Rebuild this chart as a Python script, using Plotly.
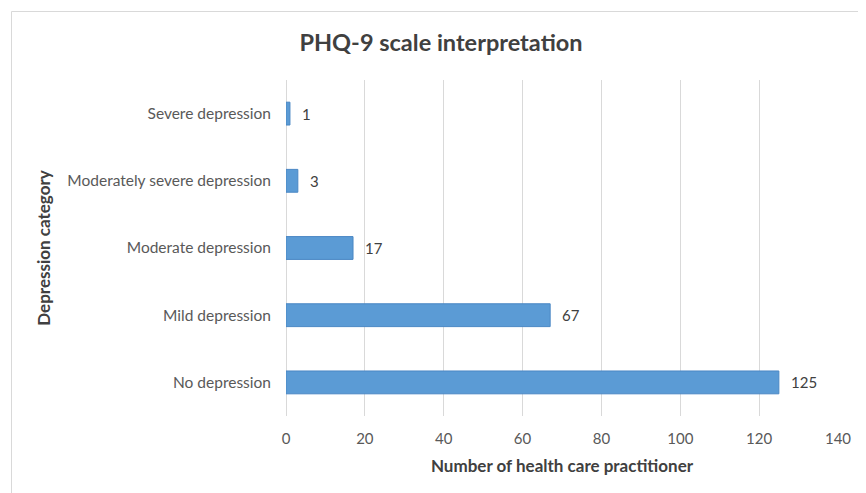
import plotly.graph_objects as go

categories = ["No depression", "Mild depression", "Moderate depression",
              "Moderately severe depression", "Severe depression"]
counts = [125, 67, 17, 3, 1]
x_ticks = [0, 20, 40, 60, 80, 100, 120, 140]

FONT = "Lato, 'Open Sans', sans-serif"
OFF = 8  # page body margin
W, H = 866 - OFF, 493 - OFF
L, T = 286 - OFF, 80 - OFF
R = W - (838 - OFF)
B = H - (416 - OFF)
pw, ph = W - L - R, H - T - B

fig = go.Figure()
fig.add_trace(go.Bar(
    y=categories, x=counts, orientation="h",
    marker=dict(color="#5B9BD5", line=dict(color="#4a87c4", width=1)),
    width=0.34, showlegend=False, hoverinfo="x+y",
))

for c, v in zip(categories, counts):
    fig.add_annotation(x=v, y=c, text=str(v), showarrow=False,
                       xanchor="left", xshift=10,
                       font=dict(family=FONT, size=15, color="#404040"))

def px_x(p):
    return (p - OFF - L) / pw

def px_y(p):
    return (H - B - (p - OFF)) / ph

fig.add_shape(type="rect", xref="paper", yref="paper",
              x0=px_x(11.5), x1=px_x(866 + 10), y0=px_y(493 + 10), y1=px_y(11.5),
              line=dict(color="#d9d9d9", width=1), layer="below")

fig.update_layout(
    width=W, height=H,
    margin=dict(l=L, r=R, t=T, b=B, autoexpand=False),
    paper_bgcolor="white", plot_bgcolor="white",
    title=dict(text="<b>PHQ-9 scale interpretation</b>", x=(441 - OFF) / W,
               xanchor="center", y=1 - (43 - OFF) / H, yanchor="middle",
               font=dict(family=FONT, size=23.5, color="#404040")),
    font=dict(family=FONT, color="#595959"),
)
fig.update_xaxes(
    range=[0, 140], tickvals=x_ticks, showgrid=True, gridcolor="#d9d9d9",
    gridwidth=1, zeroline=True, zerolinecolor="#d9d9d9", zerolinewidth=1,
    showline=False, ticks="", ticklabelstandoff=12,
    tickfont=dict(family=FONT, size=15, color="#595959"),
    title=dict(text="<b>Number of health care practitioner</b>", standoff=14,
               font=dict(family=FONT, size=17, color="#404040")),
    fixedrange=True,
)
fig.update_yaxes(
    categoryorder="array", categoryarray=categories,
    showgrid=False, showline=False, ticks="", ticklabelstandoff=14,
    tickfont=dict(family=FONT, size=15.5, color="#595959"),
    title=dict(text="<b>Depression category</b>", standoff=12,
               font=dict(family=FONT, size=17, color="#404040")),
    fixedrange=True,
)

fig.write_html("out.html")
